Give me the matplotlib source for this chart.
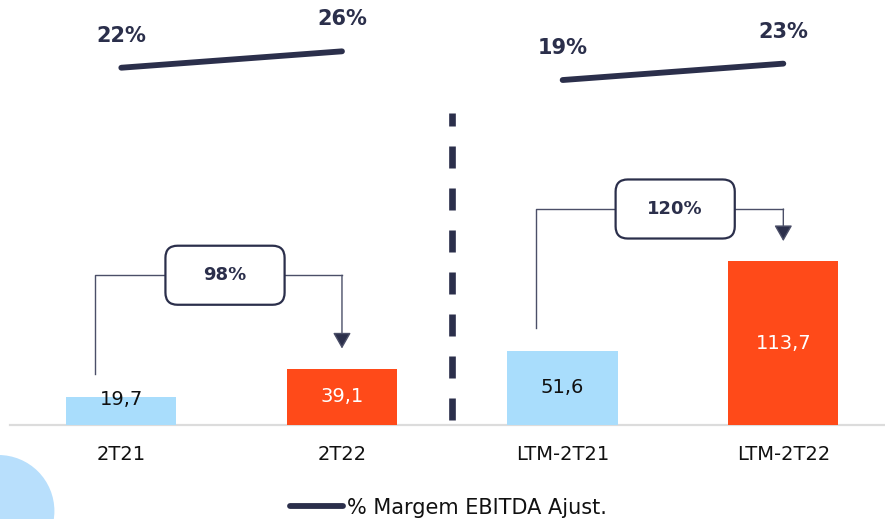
import matplotlib.pyplot as plt
from matplotlib.patches import FancyBboxPatch, Circle

# data
categories = ['2T21', '2T22', 'LTM-2T21', 'LTM-2T22']
ebitda = [19.7, 39.1, 51.6, 113.7]
value_labels = ['19,7', '39,1', '51,6', '113,7']
margin = [22, 26, 19, 23]
margin_labels = ['22%', '26%', '19%', '23%']
growth_labels = ['98%', '120%']

navy = '#2b2f4b'
connector = '#4b4f68'
bar_colors = ['#a9ddfc', '#ff4a19', '#a9ddfc', '#ff4a19']
text_colors = ['#111111', 'white', '#111111', 'white']

fig = plt.figure(figsize=(8.85, 5.19), dpi=100)
ax = fig.add_axes([0, 0, 1, 1])
ax.set_xlim(-0.5497, 3.4608)
ax.set_ylim(-65.28, 295.14)
ax.axis('off')

# background decoration (bottom-left)
fig.patches.append(Circle((-0.016, 0.08), 0.56, transform=fig.dpi_scale_trans,
                          facecolor='#b8dffc', edgecolor='none', zorder=0))

x = list(range(len(categories)))

# bars
ax.bar(x, ebitda, width=0.5, color=bar_colors, zorder=2)
ax.axhline(0, xmin=10 / 885, xmax=1, color='#dcdcdc', lw=1.6, zorder=1)

for i, v in enumerate(ebitda):
    ax.text(i, max(v / 2, 17.5), value_labels[i], ha='center', va='center',
            fontsize=14, color=text_colors[i], zorder=3)
    ax.text(i, -20.8, categories[i], ha='center', va='center', fontsize=14,
            color='#111111')

# separator
ax.plot([1.5, 1.5], [3.5, 216.7], color=navy, lw=4.8, ls=(0, (3.3, 3.0)),
        dash_capstyle='butt', zorder=2)

# growth brackets
levels = [104, 150]
box_centers = [0.47, 2.51]
box_w, box_h = 0.54, 41
for k, (a, b) in enumerate([(0, 1), (2, 3)]):
    lvl = levels[k]
    xa = a - 0.12
    bx0 = box_centers[k] - box_w / 2
    bx1 = box_centers[k] + box_w / 2
    ax.plot([xa, xa, bx0], [ebitda[a] + 16, lvl, lvl], color=connector, lw=1.0, zorder=2)
    ax.plot([bx1, b], [lvl, lvl], color=connector, lw=1.0, zorder=2)
    ax.annotate('', xy=(b, ebitda[b] + 14), xytext=(b, lvl),
                arrowprops=dict(arrowstyle='-|>,head_length=0.7,head_width=0.4',
                                mutation_scale=14, shrinkA=0, shrinkB=0, lw=1.0,
                                ec=connector, fc=navy), zorder=2)
    box = FancyBboxPatch((bx0, lvl - box_h / 2), box_w, box_h,
                         boxstyle='round,pad=0,rounding_size=0.055',
                         mutation_aspect=153.2, facecolor='white', edgecolor=navy,
                         lw=1.6, zorder=3)
    ax.add_patch(box)
    ax.text(box_centers[k], lvl, growth_labels[k], ha='center', va='center',
            fontsize=13, fontweight='bold', color=navy, zorder=4)

# margin lines
ax2 = ax.twinx()
ax2.set_position([0, 0, 1, 1])
ax2.set_ylim(-88.07, 38.52)
ax2.axis('off')
line = None
for a, b in [(0, 1), (2, 3)]:
    line, = ax2.plot([a, b], [margin[a], margin[b]], color=navy, lw=4.2,
                     solid_capstyle='round', label='% Margem EBITDA Ajust.')
    for i in (a, b):
        ax2.annotate(margin_labels[i], (i, margin[i]), xytext=(0, 23),
                     textcoords='offset points', ha='center', va='center',
                     fontsize=15, fontweight='bold', color=navy)

fig.legend(handles=[line], loc='center left', bbox_to_anchor=(290 / 885, 11.5 / 519),
           frameon=False, fontsize=15, handlelength=2.55, handletextpad=0.18,
           borderpad=0, borderaxespad=0, labelcolor='#111111')

plt.savefig('out.png', dpi=100)
